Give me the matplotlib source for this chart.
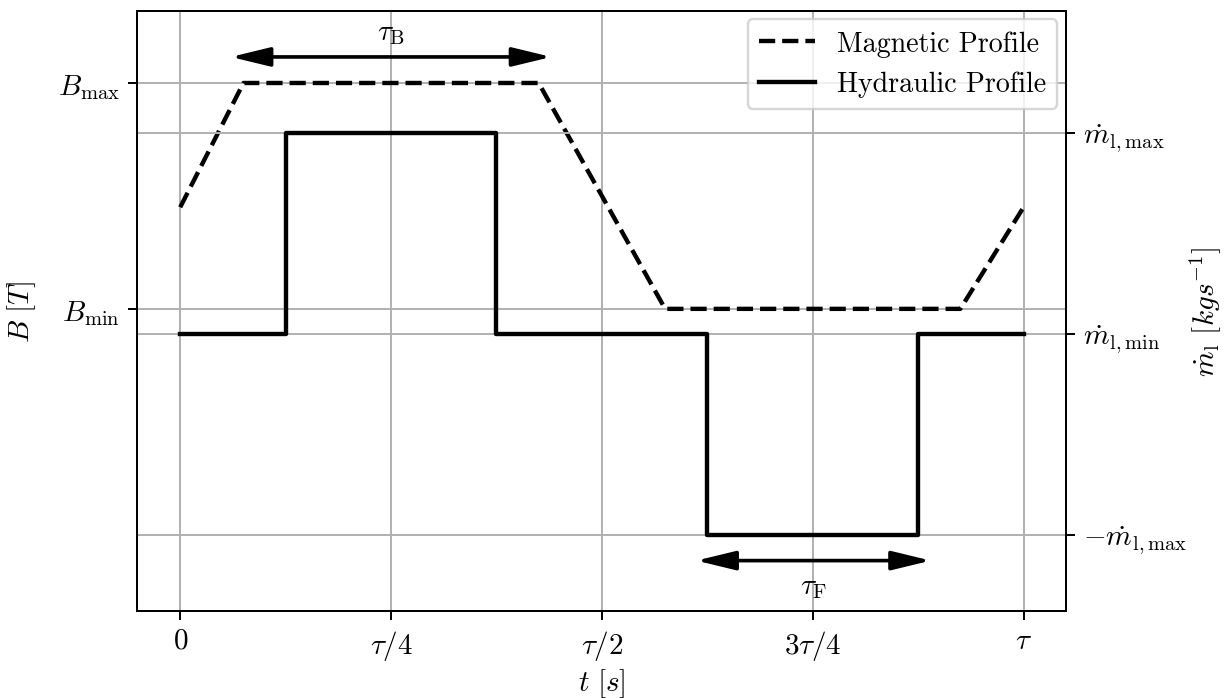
import matplotlib
matplotlib.use('Agg')
import matplotlib.pyplot as plt

plt.rcParams['font.family'] = 'serif'
plt.rcParams['font.serif'] = ['cmr10']
plt.rcParams['mathtext.fontset'] = 'cm'
plt.rcParams['axes.unicode_minus'] = False
plt.rcParams['font.size'] = 12

# magnetic profile (left axis, B)
t_mag = [0.0, 0.075, 0.425, 0.575, 0.925, 1.0]
B_mag = [0.45, 1.0, 1.0, 0.0, 0.0, 0.45]

# hydraulic profile (right axis, mass flow), step-wise
t_hyd = [0.0, 0.125, 0.375, 0.625, 0.875, 1.0]
m_hyd = [0.0, 1.0, 0.0, -1.0, 0.0, 0.0]

x_ticks = [0, 0.25, 0.5, 0.75, 1.0]
x_ticklabels = ['$0$', r'$\tau/4$', r'$\tau/2$', r'$3\tau/4$', r'$\tau$']
B_ticks = [0.0, 1.0]
B_ticklabels = [r'$B_\mathrm{min}$', r'$B_\mathrm{max}$']
m_ticks = [-1.0, 0.0, 1.0]
m_ticklabels = [r'$-\dot{m}_\mathrm{l,max}$', r'$\dot{m}_\mathrm{l,min}$', r'$\dot{m}_\mathrm{l,max}$']

# arrows: (start, end, y, label y)
tauB = (0.060, 0.440, 1.378, 1.500)
tauF = (0.612, 0.890, -1.129, -1.260)

fig = plt.figure(figsize=(7, 3.994), dpi=175)
ax1 = fig.add_subplot(111)
fig.subplots_adjust(left=0.112, right=0.870, top=0.983, bottom=0.125)

l1, = ax1.plot(t_mag, B_mag, 'k--', lw=1.8, label='Magnetic Profile')
ax1.set_xticks(x_ticks)
ax1.set_xticklabels(x_ticklabels)
ax1.set_yticks(B_ticks)
ax1.set_yticklabels(B_ticklabels)
ax1.set_ylim(-1.336, 1.319)
ax1.set_xlim(-0.051, 1.05)
ax1.set_xlabel(r'$t\ [s]$')
ax1.xaxis.set_label_coords(0.5, -0.092)
ax1.set_ylabel(r'$B\ [T]$')
ax1.yaxis.set_label_coords(-0.107, 0.5)
ax1.grid(True)

ax2 = ax1.twinx()
l2, = ax2.plot(t_hyd, m_hyd, 'k-', lw=1.8, drawstyle='steps-post', label='Hydraulic Profile')
ax2.set_yticks(m_ticks)
ax2.set_yticklabels(m_ticklabels)
ax2.set_ylim(-1.378, 1.607)
ax2.set_ylabel(r'$\dot{m}_\mathrm{l}\ [kg s^{-1}]$', labelpad=0)
ax2.grid(True)

for a, b, y, ly, lab in [tauB + (r'$\tau_\mathrm{B}$',), tauF + (r'$\tau_\mathrm{F}$',)]:
    ax2.annotate('', xy=(b, y), xytext=(a, y),
                 arrowprops=dict(arrowstyle='<|-|>,head_length=1.36,head_width=0.33',
                                 color='k', lw=1.5, shrinkA=0, shrinkB=0,
                                 mutation_scale=10))
    ax2.text((a + b) / 2, ly, lab, ha='center', va='center')

ax2.legend(handles=[l1, l2], loc='upper right', fontsize=11.5,
           borderaxespad=0.3)

plt.savefig('out.png', dpi=175)
